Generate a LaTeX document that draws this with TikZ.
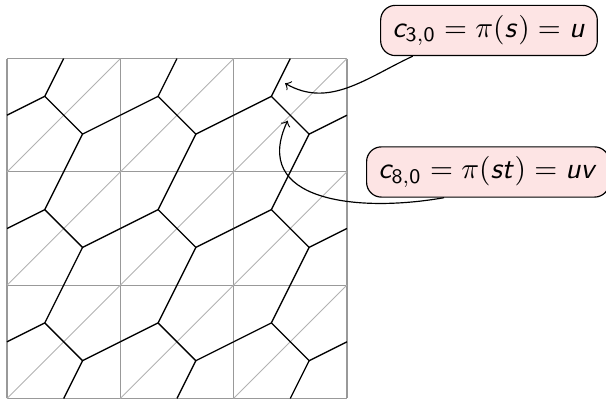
\documentclass[tikz,border=0pt]{standalone}
\usepackage{amsmath}
\usetikzlibrary{calc,positioning,arrows.meta}
\DeclareMathAlphabet{\mathsfit}{OT1}{cmss}{m}{sl}
\DeclareMathAlphabet{\mathsfup}{OT1}{cmss}{m}{n}
\definecolor{boxpink}{RGB}{253,228,228}
\tikzset{
  gridline/.style={black!40, line width=0.4pt},
  diagline/.style={black!30, line width=0.3pt},
  tileedge/.style={black, line width=0.45pt},
  labelbox/.style={draw, fill=boxpink, rounded corners=5pt, inner xsep=4pt, minimum height=0.583cm},
}

\begin{document}
\begin{tikzpicture}[>=to, x=1.35cm, y=1.35cm]
  \useasboundingbox (-0.062,0) rectangle (5.287,3.517);

  % gitter und diagonalen
  \foreach \k in {0,1,2,3}{
    \draw[gridline] (\k,0) -- (\k,3);
    \draw[gridline] (0,\k) -- (3,\k);
  }
  \foreach \i in {0,1,2}
    \foreach \j in {0,1,2}
      \draw[diagline] (\i,\j) -- ++(1,1);

  % pflasterung
  \foreach \i in {0,1,2}
    \foreach \j in {0,1,2}{
      \begin{scope}[shift={(\i,\j)}]
        \path
        (1/3,2/3) coordinate (A)
        (2/3,1/3) coordinate (B);
        \draw[tileedge] (0,0.5) -- (A) -- (0.5,1);
        \draw[tileedge] (A) -- (B) -- (1,0.5);
        \draw[tileedge] (B) -- (0.5,0);
      \end{scope}
    }

  % beschriftungen
  \node[labelbox, minimum width=2.479cm] (lblS) at (4.254,3.248)
    {$\mathsfit{c}_{\mathsfup{3,0}} = \pi(\mathsfit{s}) = \mathsfit{u}$};
  \node[labelbox, minimum width=2.788cm] (lblST) at (4.245,1.999)
    {$\mathsfit{c}_{\mathsfup{8,0}} = \pi(\mathsfit{st}) = \mathsfit{uv}$};

  \path
  (2.454,2.782) coordinate (tipS)
  (2.477,2.452) coordinate (tipST);

  % pfeile
  \draw[->] ($(lblS.south west)!0.15!(lblS.south east)$) to[out=-155, in=-30] (tipS);
  \draw[->] ($(lblST.south west)!0.32!(lblST.south east)$) to[out=-170, in=-115, looseness=1.3] (tipST);
\end{tikzpicture}
\end{document}
